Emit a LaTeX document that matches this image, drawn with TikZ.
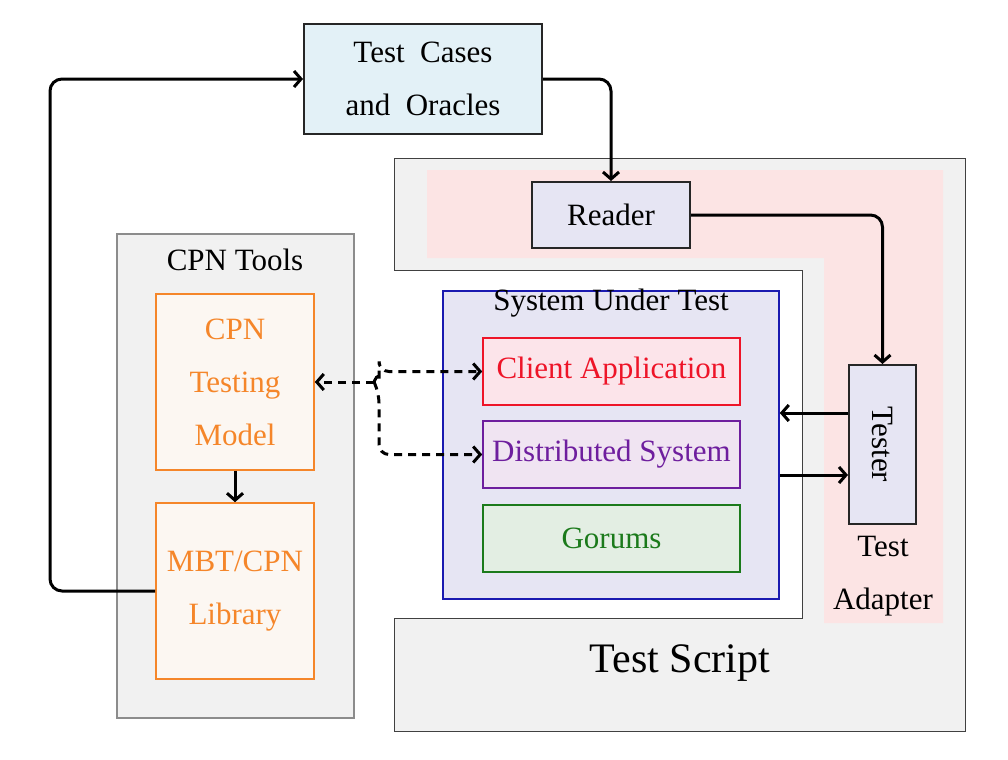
\documentclass[tikz,border=0pt]{standalone}
\usepackage{fontspec}
\setmainfont{Liberation Serif}
\usepackage{graphicx}
\usetikzlibrary{arrows.meta}
\definecolor{casefill}{HTML}{E3F1F7}
\definecolor{scriptfill}{HTML}{F1F1F1}
\definecolor{adapterfill}{HTML}{FCE4E4}
\definecolor{sutfill}{HTML}{E6E5F3}
\definecolor{sutblue}{HTML}{1A1AB0}
\definecolor{clientred}{HTML}{EE1428}
\definecolor{clientfill}{HTML}{FCE4EA}
\definecolor{distpurple}{HTML}{6E1E9E}
\definecolor{distfill}{HTML}{F0E4F2}
\definecolor{gorgreen}{HTML}{1B7A1B}
\definecolor{gorfill}{HTML}{E3EEE3}
\definecolor{cpnorange}{HTML}{F5862A}
\definecolor{cpnfill}{HTML}{FCF7F2}
\definecolor{toolsgrey}{HTML}{8C8C8C}
\tikzset{
	txt/.style={font=\fontsize{15.5}{26.5}\selectfont, align=center, inner sep=0pt},
	blockbox/.style={txt, draw=black!85, line width=1pt},
	partbox/.style={txt, line width=0.8pt, minimum width=128.5pt, minimum height=33.5pt},
	cpnbox/.style={txt, draw=cpnorange, fill=cpnfill, text=cpnorange, line width=0.8pt, minimum width=79pt, minimum height=88pt},
	conn/.style={line width=1.5pt, -{Straight Barb[length=3.5pt,width=8pt]}},
	dashconn/.style={conn, dash pattern=on 4pt off 3pt},
}

\begin{document}
\begin{tikzpicture}[x=0.5pt, y=-0.5pt]
		%%%%% START %%%%%
		\useasboundingbox (0,0) rectangle (1008,760);
		
		\draw[fill=scriptfill, draw=black!75, line width=0.5pt] (394,158) -- (965,158) -- (965,731) -- (394,731) -- (394,618) -- (802,618) -- (802,270) -- (394,270) -- cycle;
		\fill[adapterfill] (427,170) -- (943,170) -- (943,623) -- (824,623) -- (824,258) -- (427,258) -- cycle;
		\node[txt, font=\fontsize{21}{24}\selectfont] (script) at (680,663) {Test Script};
		\node[txt] (adapter) at (883,576) {Test\\Adapter};
		
		\node[blockbox, fill=casefill, minimum width=119pt, minimum height=55pt] (cases) at (423,79) {Test~~Cases\\and~~Oracles};
		\node[blockbox, fill=sutfill, minimum width=79pt, minimum height=33pt] (reader) at (611,215) {Reader};
		\node[blockbox, fill=sutfill, minimum width=33.5pt, minimum height=79.5pt] (tester) at (882.5,444.5) {\rotatebox{-90}{Tester}};
		
		\node[draw=sutblue, fill=sutfill, line width=0.8pt, minimum width=168pt, minimum height=154pt] (sut) at (611,445) {};
		\node[txt] (sutlabel) at (611,303) {System Under Test};
		\node[partbox, draw=clientred, fill=clientfill, text=clientred] (client) at (611.5,371.5) {Client Application};
		\node[partbox, draw=distpurple, fill=distfill, text=distpurple] (dist) at (611.5,454.5) {Distributed System};
		\node[partbox, draw=gorgreen, fill=gorfill, text=gorgreen] (gorums) at (611.5,538.5) {Gorums};
		
		\node[draw=toolsgrey, fill=scriptfill, line width=0.8pt, minimum width=118.5pt, minimum height=242pt] (tools) at (235.5,476) {};
		\node[txt] (toolslabel) at (235,260) {CPN Tools};
		\node[cpnbox] (model) at (235,382) {CPN\\Testing\\Model};
		\node[cpnbox] (library) at (235,591) {MBT/CPN\\Library};
		
		\coordinate (loop) at (50,79);
		\coordinate (fork) at (374,382);
		
		\draw[conn] (model.south) -- (library.north);
		\draw[conn, rounded corners=6pt] (library.west) -| (loop) -- (cases.west);
		\draw[conn, rounded corners=6pt] (cases.east) -| (reader.north);
		\draw[conn, rounded corners=6pt] (reader.east) -| (tester.north);
		\draw[conn] ([yshift=15.75pt]tester.west) coordinate (t1) -- (t1 -| sut.east);
		\draw[conn] ([yshift=-15pt]sut.east) coordinate (t2) -- (t2 -| tester.west);
		
		\draw[dashconn] (fork) -- (model.east);
		\draw[dashconn, rounded corners=5pt] (fork) -- (379,371) |- (client.west);
		\draw[dashconn, rounded corners=5pt] (fork) -- (379,393) |- (dist.west);
		
		%%%%% END %%%%%
	\end{tikzpicture}
\end{document}
